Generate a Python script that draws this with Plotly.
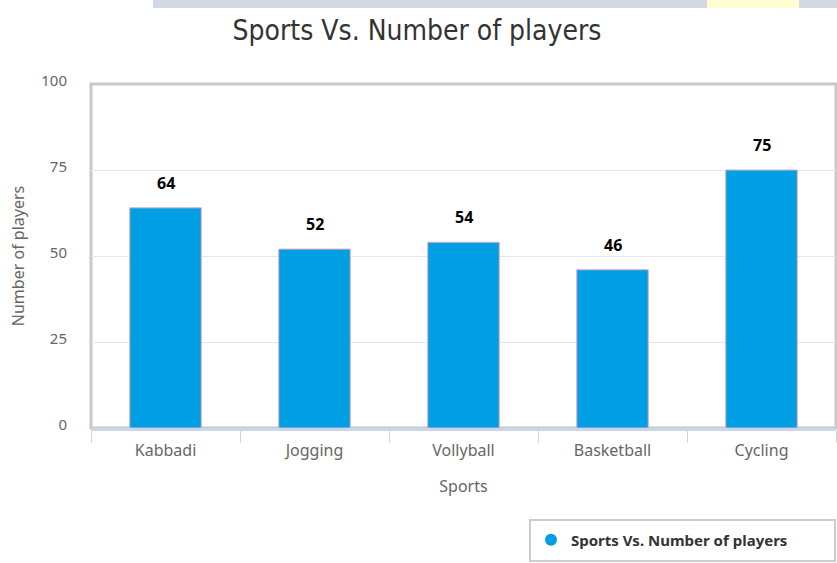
import plotly.graph_objects as go

categories = ["Kabbadi", "Jogging", "Vollyball", "Basketball", "Cycling"]
players = [64, 52, 54, 46, 75]
series_name = "Sports Vs. Number of players"
y_ticks = [0, 25, 50, 75, 100]

BAR = "#009FE3"
FONT = "Noto Sans, Open Sans, sans-serif"

fig = go.Figure()
fig.add_trace(go.Bar(
    x=categories, y=players, width=0.48,
    marker=dict(color=BAR, line=dict(color="#e8a6c8", width=1)),
    showlegend=False, hoverinfo="x+y",
))
# legend entry with circle symbol
fig.add_trace(go.Scatter(
    x=[None], y=[None], mode="markers", name=series_name,
    marker=dict(symbol="circle", size=16, color=BAR),
))

for c, v in zip(categories, players):
    fig.add_annotation(x=c, y=v, text="<b>%d</b>" % v, showarrow=False,
                       yanchor="bottom", yshift=12,
                       font=dict(family=FONT, size=16, color="#000000"))

W, H = 837, 563
L, R, T, B = 91, 1, 84, 135
PW, PH = W - L - R, H - T - B


def px(x):
    return (x - L) / PW


def py(y):
    return (H - B - y) / PH


fig.update_layout(
    width=W, height=H,
    margin=dict(l=L, r=R, t=T, b=B),
    paper_bgcolor="white", plot_bgcolor="white",
    title=dict(text=series_name, x=417 / W, xref="container", xanchor="center",
               y=1 - 30 / H, yref="container", yanchor="middle",
               font=dict(family="Liberation Sans Narrow, DejaVu Sans Condensed, sans-serif",
                         size=28, color="#333333")),
    font=dict(family=FONT, color="#666666"),
    xaxis=dict(
        title=dict(text="Sports", font=dict(size=16, color="#666666"), standoff=21),
        tickfont=dict(size=16, color="#666666"),
        showgrid=False, showline=True, linecolor="#ccd6eb", linewidth=3,
        ticks="outside", tickson="boundaries", ticklen=12, tickcolor="#ccd6eb",
        tickwidth=1, ticklabelstandoff=6, range=[-0.5, 4.5], fixedrange=True,
    ),
    yaxis=dict(
        title=dict(text="Number of players", font=dict(size=16, color="#666666"), standoff=12),
        tickvals=y_ticks, range=[0, 100],
        tickfont=dict(size=15, color="#666666"),
        showgrid=True, gridcolor="#e6e6e6", gridwidth=1,
        zeroline=False, showline=False,
        ticks="outside", ticklen=20, tickcolor="rgba(0,0,0,0)",
        ticklabelshift=-3,
    ),
    legend=dict(
        x=px(531), y=py(540),
        xanchor="left", yanchor="middle",
        borderwidth=0, bgcolor="rgba(0,0,0,0)",
        font=dict(family=FONT, size=15, color="#333333", weight="bold"),
        itemsizing="constant",
    ),
    shapes=[
        # plot frame
        dict(type="rect", xref="paper", yref="paper", x0=0, x1=1, y0=0, y1=1,
             line=dict(color="#c8c8c8", width=3), layer="below"),
        # legend box
        dict(type="rect", xref="paper", yref="paper",
             x0=px(530), x1=px(835), y0=py(561), y1=py(520),
             line=dict(color="#cccccc", width=2), fillcolor="white", layer="below"),
        # browser strip at top
        dict(type="rect", xref="paper", yref="paper",
             x0=px(153), x1=px(W), y0=py(8), y1=py(0),
             line=dict(width=0), fillcolor="#d3d9e3"),
        dict(type="rect", xref="paper", yref="paper",
             x0=px(707), x1=px(799), y0=py(8), y1=py(0),
             line=dict(width=0), fillcolor="#fffed2"),
    ],
)

fig.write_html(
    "out.html",
    config={"displayModeBar": False},
    post_script="document.body.style.margin='0';document.body.style.overflow='hidden';",
)
